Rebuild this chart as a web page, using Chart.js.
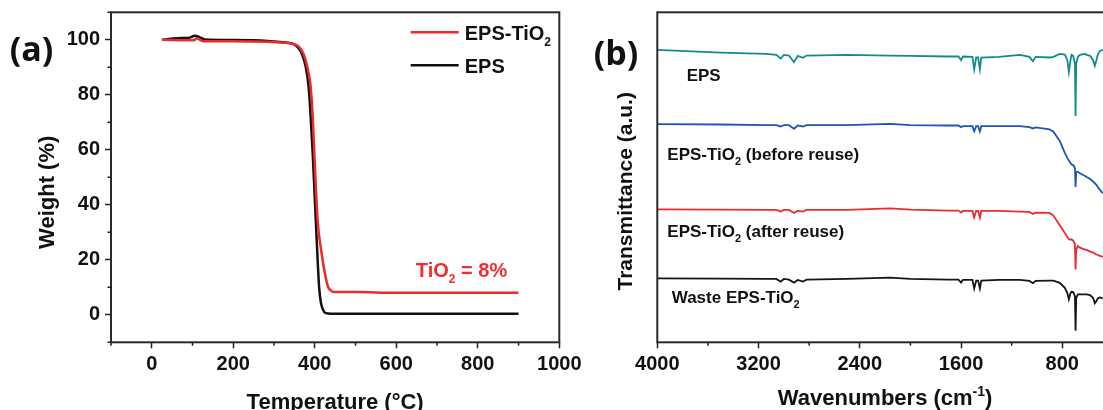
<!DOCTYPE html>
<html>
<head>
<meta charset="utf-8">
<script src="https://cdn.jsdelivr.net/npm/chart.js@4.4.1/dist/chart.umd.min.js"></script>
<style>
    html, body { margin: 0; padding: 0; background: #fff; width: 1103px; height: 410px; overflow: hidden; }
    #tga { position: absolute; left: 0; top: 0; }
    #ftir { position: absolute; left: 580px; top: 0; }
</style>
</head>
<body>
<canvas id="tga" width="600" height="410"></canvas>
<canvas id="ftir" width="560" height="410"></canvas>
<script>
// (a) TGA curves
const tempTiO2 = [25, 104, 110, 126, 196, 284, 328, 345, 359, 372, 382, 390, 395, 399, 407, 417, 425, 433, 440, 446, 500, 600, 900];
const weightTiO2 = [100.0, 99.8, 100.6, 99.5, 99.5, 99.3, 98.9, 98.6, 97.8, 95.0, 90.0, 82.8, 72.0, 58.5, 34.3, 22.2, 14.9, 10.0, 8.8, 8.3, 8.3, 8.0, 8.0];
const tempEPS = [25, 64, 90, 106, 117, 130, 196, 284, 328, 350, 368, 378, 385, 390, 395, 402.5, 407, 410.7, 415, 421, 427, 440, 900];
const weightEPS = [100.0, 100.6, 100.7, 101.5, 101.0, 100.1, 99.9, 99.6, 99.0, 98.3, 95.0, 90.0, 82.8, 72.0, 58.5, 34.3, 20.0, 10.0, 4.5, 1.6, 0.6, 0.4, 0.4];

const tempTicks = [0, 200, 400, 600, 800, 1000];
const tempMinor = [-100, 100, 300, 500, 700, 900];
const weightTicks = [0, 20, 40, 60, 80, 100];
const weightMinor = [-10, 10, 30, 50, 70, 90, 110];

// (b) FTIR spectra, offset traces (a.u.)
const wavenumbers = [4000, 3500, 3140, 3060, 3025, 3000, 2960, 2920, 2890, 2850,
    2820, 2500, 2160, 2000, 1700, 1620, 1600, 1585, 1510, 1496,
    1480, 1465, 1451, 1440, 1300, 1135, 1060, 1032, 1010, 900,
    870, 820, 780, 760, 748, 735, 727, 714, 700, 695,
    690, 677, 661, 620, 608, 580, 556, 543, 530, 520,
    503, 480];
const tEPS = [88.6, 87.8, 87.4, 87.1, 86.0, 87.1, 86.9, 84.9, 86.8, 86.2,
    86.9, 87.1, 86.9, 86.8, 86.6, 86.6, 85.5, 86.6, 86.5, 82.7,
    86.3, 86.3, 82.7, 86.3, 86.5, 87.1, 86.5, 85.2, 86.5, 86.3,
    86.5, 87.4, 87.2, 85.5, 81.9, 85.5, 87.1, 86.8, 84.5, 68.6,
    84.5, 86.5, 87.1, 87.4, 87.1, 86.8, 85.5, 83.8, 85.5, 87.1,
    88.3, 88.6];
const tBefore = [66.1, 66.0, 65.8, 65.8, 65.4, 65.8, 65.8, 64.7, 65.7, 65.4,
    65.8, 65.8, 66.2, 65.8, 65.7, 65.7, 65.2, 65.5, 65.5, 63.9,
    65.5, 65.5, 63.9, 65.5, 65.5, 65.5, 65.2, 64.8, 65.1, 64.5,
    63.8, 61.0, 57.4, 55.8, 55.1, 54.3, 53.9, 53.7, 52.8, 47.1,
    51.6, 51.7, 51.2, 50.4, 50.1, 49.5, 48.7, 48.2, 47.7, 47.1,
    46.2, 45.2];
const tAfter = [40.3, 40.2, 40.1, 40.1, 39.6, 40.1, 40.1, 39.2, 39.9, 39.6,
    40.1, 40.1, 40.6, 40.2, 39.9, 39.9, 39.3, 39.8, 39.8, 37.8,
    39.8, 39.8, 37.8, 39.8, 39.8, 39.6, 39.5, 38.9, 39.3, 39.2,
    38.4, 35.5, 33.1, 31.9, 31.3, 31.1, 31.2, 30.8, 29.8, 22.1,
    28.0, 29.2, 28.7, 28.1, 28.0, 27.5, 27.2, 26.9, 26.6, 26.5,
    26.2, 25.9];
const tWaste = [19.4, 19.3, 19.2, 19.2, 18.4, 19.2, 19.0, 18.1, 18.9, 18.4,
    19.0, 19.2, 19.6, 19.2, 19.0, 19.0, 18.1, 18.9, 18.9, 16.3,
    18.7, 18.7, 16.3, 18.7, 18.9, 18.9, 18.6, 17.9, 18.6, 18.7,
    18.7, 18.0, 16.5, 14.9, 13.0, 14.9, 15.3, 15.2, 14.0, 3.5,
    13.4, 14.5, 14.5, 14.5, 14.5, 14.3, 13.4, 11.8, 12.5, 13.3,
    13.6, 13.3];

const waveTicks = [4000, 3200, 2400, 1600, 800];
const waveMinor = [3600, 2800, 2000, 1200, 400];

const FONT = "'Liberation Sans', Arial, sans-serif";
const tickFont = { family: FONT, size: 20, weight: 'bold' };

const toXY = (xs, ys) => xs.map((x, i) => ({ x: x, y: ys[i] }));

// text with sub/superscripts, yMid = vertical centre of the capitals
function richText(ctx, parts, x, yMid, size, color, align) {
    ctx.save();
    ctx.fillStyle = color;
    ctx.textAlign = 'left';
    ctx.textBaseline = 'alphabetic';
    const font = (k) => 'bold ' + (k === 'n' ? size : Math.round(size * 0.62)) + 'px ' + FONT;
    let total = 0;
    parts.forEach(([t, k]) => { ctx.font = font(k); total += ctx.measureText(t).width; });
    let cx = align === 'center' ? x - total / 2 : x;
    const base = yMid + size * 0.36;
    parts.forEach(([t, k]) => {
        ctx.font = font(k);
        const dy = k === 'sub' ? size * 0.28 : (k === 'sup' ? -size * 0.42 : 0);
        ctx.fillText(t, cx, base + dy);
        cx += ctx.measureText(t).width;
    });
    ctx.restore();
}

function rotatedText(ctx, parts, x, y, size) {
    ctx.save();
    ctx.translate(x, y);
    ctx.rotate(-Math.PI / 2);
    richText(ctx, parts, 0, 0, size, '#111', 'center');
    ctx.restore();
}

function panelLetter(ctx, text, x, y) {
    ctx.save();
    ctx.fillStyle = '#111';
    ctx.font = "bold 34px 'Open Sans', sans-serif";
    ctx.textAlign = 'center';
    ctx.textBaseline = 'middle';
    ctx.fillText(text, x, y);
    ctx.restore();
}

function drawFrame(chart) {
    const { ctx, chartArea: a } = chart;
    ctx.save();
    ctx.strokeStyle = '#2a2a2a';
    ctx.lineWidth = 2;
    ctx.strokeRect(a.left, a.top, a.right - a.left, a.bottom - a.top);
    ctx.restore();
}

function minorTicks(chart, axis, values, len) {
    const { ctx, chartArea: a } = chart;
    const s = chart.scales[axis];
    ctx.save();
    ctx.strokeStyle = '#222';
    ctx.lineWidth = 1.5;
    ctx.beginPath();
    values.forEach(v => {
        const p = s.getPixelForValue(v);
        if (axis === 'x') { ctx.moveTo(p, a.bottom); ctx.lineTo(p, a.bottom + len); }
        else { ctx.moveTo(a.left, p); ctx.lineTo(a.left - len, p); }
    });
    ctx.stroke();
    ctx.restore();
}

const tgaDecor = {
    id: 'tgaDecor',
    afterDraw(chart) {
        const { ctx, chartArea: a, scales } = chart;
        drawFrame(chart);
        minorTicks(chart, 'x', tempMinor, 3.5);
        minorTicks(chart, 'y', weightMinor, 3.5);

        // legend
        const lx = a.right - 148.6;
        [['#ee2a2a', [['EPS-TiO', 'n'], ['2', 'sub']], 20], ['#111', [['EPS', 'n']], 53]].forEach(([c, parts, dy]) => {
            ctx.save();
            ctx.strokeStyle = c;
            ctx.lineWidth = 2.5;
            ctx.beginPath();
            ctx.moveTo(lx, a.top + dy);
            ctx.lineTo(lx + 48, a.top + dy);
            ctx.stroke();
            ctx.restore();
            richText(ctx, parts, lx + 54, a.top + dy + 0.5, 20, '#111', 'left');
        });

        // residue note
        richText(ctx, [['TiO', 'n'], ['2', 'sub'], [' = 8%', 'n']],
            scales.x.getPixelForValue(648), scales.y.getPixelForValue(16.4), 20, '#ee2f2f', 'left');

        panelLetter(ctx, '(a)', 31.5, 51);
        rotatedText(ctx, [['Weight (%)', 'n']], a.left - 64.5, (a.top + a.bottom) / 2 + 15, 22);
        richText(ctx, [['Temperature (°C)', 'n']], (a.left + a.right) / 2, 401, 22, '#111', 'center');
    }
};

const ftirDecor = {
    id: 'ftirDecor',
    afterDraw(chart) {
        const { ctx, chartArea: a, scales } = chart;
        drawFrame(chart);
        minorTicks(chart, 'x', waveMinor, 3.5);

        const labels = [
            [[['EPS', 'n']], 3768, 81.0],
            [[['EPS-TiO', 'n'], ['2', 'sub'], [' (before reuse)', 'n']], 3921, 57.1],
            [[['EPS-TiO', 'n'], ['2', 'sub'], [' (after reuse)', 'n']], 3921, 33.7],
            [[['Waste EPS-TiO', 'n'], ['2', 'sub']], 3886, 13.8]
        ];
        labels.forEach(([parts, wx, wy]) => {
            richText(ctx, parts, scales.x.getPixelForValue(wx), scales.y.getPixelForValue(wy), 17, '#111', 'left');
        });

        panelLetter(ctx, '(b)', a.left - 41.3, 55);
        rotatedText(ctx, [['Transmittance (a.u.)', 'n']], a.left - 33.3, (a.top + a.bottom) / 2 + 14, 21);
        richText(ctx, [['Wavenumbers (cm', 'n'], ['-1', 'sup'], [')', 'n']], (a.left + a.right) / 2, 397, 22, '#111', 'center');
    }
};

const axisGrid = { drawOnChartArea: false, drawTicks: true, tickLength: 6, tickWidth: 1.5, tickColor: '#222' };
const noPad = s => { s.paddingTop = 0; s.paddingBottom = 0; s.paddingLeft = 0; s.paddingRight = 0; };

new Chart(document.getElementById('tga'), {
    type: 'line',
    data: {
        datasets: [
            { label: 'EPS-TiO2', data: toXY(tempTiO2, weightTiO2), borderColor: '#ee2a2a', borderWidth: 2.5, pointRadius: 0, cubicInterpolationMode: 'monotone' },
            { label: 'EPS', data: toXY(tempEPS, weightEPS), borderColor: '#111111', borderWidth: 2.5, pointRadius: 0, cubicInterpolationMode: 'monotone' }
        ]
    },
    options: {
        responsive: false,
        animation: false,
        layout: { padding: { top: 12.3, right: 40.7, left: 0, bottom: 0 } },
        plugins: { legend: { display: false }, tooltip: { enabled: false } },
        scales: {
            x: {
                type: 'linear', min: -100, max: 1000,
                afterBuildTicks: s => { s.ticks = tempTicks.map(v => ({ value: v })); },
                afterFit: s => { s.height = 67.7; noPad(s); },
                grid: axisGrid,
                border: { display: false },
                ticks: { font: tickFont, color: '#111', padding: 4, maxRotation: 0, autoSkip: false, callback: v => String(v) }
            },
            y: {
                type: 'linear', min: -10, max: 110,
                afterBuildTicks: s => { s.ticks = weightTicks.map(v => ({ value: v })); },
                afterFit: s => { s.width = 111; noPad(s); },
                grid: axisGrid,
                border: { display: false },
                ticks: { font: tickFont, color: '#111', padding: 5, callback: v => String(v) }
            }
        }
    },
    plugins: [tgaDecor]
});

const ftirSeries = [
    { label: 'EPS', values: tEPS, color: '#168a8a' },
    { label: 'EPS-TiO2 (before reuse)', values: tBefore, color: '#1d56b4' },
    { label: 'EPS-TiO2 (after reuse)', values: tAfter, color: '#ec2b2f' },
    { label: 'Waste EPS-TiO2', values: tWaste, color: '#151515' }
];

new Chart(document.getElementById('ftir'), {
    type: 'line',
    data: {
        datasets: ftirSeries.map(s => ({
            label: s.label, data: toXY(wavenumbers, s.values),
            borderColor: s.color, borderWidth: 1.8, pointRadius: 0, tension: 0
        }))
    },
    options: {
        responsive: false,
        animation: false,
        layout: { padding: { top: 12.3, right: 27.1, left: 77.3, bottom: 0 } },
        plugins: { legend: { display: false }, tooltip: { enabled: false } },
        scales: {
            x: {
                type: 'linear', min: 400, max: 4000, reverse: true,
                afterBuildTicks: s => { s.ticks = waveTicks.map(v => ({ value: v })); },
                afterFit: s => { s.height = 67.7; noPad(s); },
                grid: axisGrid,
                border: { display: false },
                ticks: { font: tickFont, color: '#111', padding: 4, maxRotation: 0, autoSkip: false, callback: v => String(v) }
            },
            y: { type: 'linear', min: 0, max: 100, display: false }
        }
    },
    plugins: [ftirDecor]
});
</script>
</body>
</html>
